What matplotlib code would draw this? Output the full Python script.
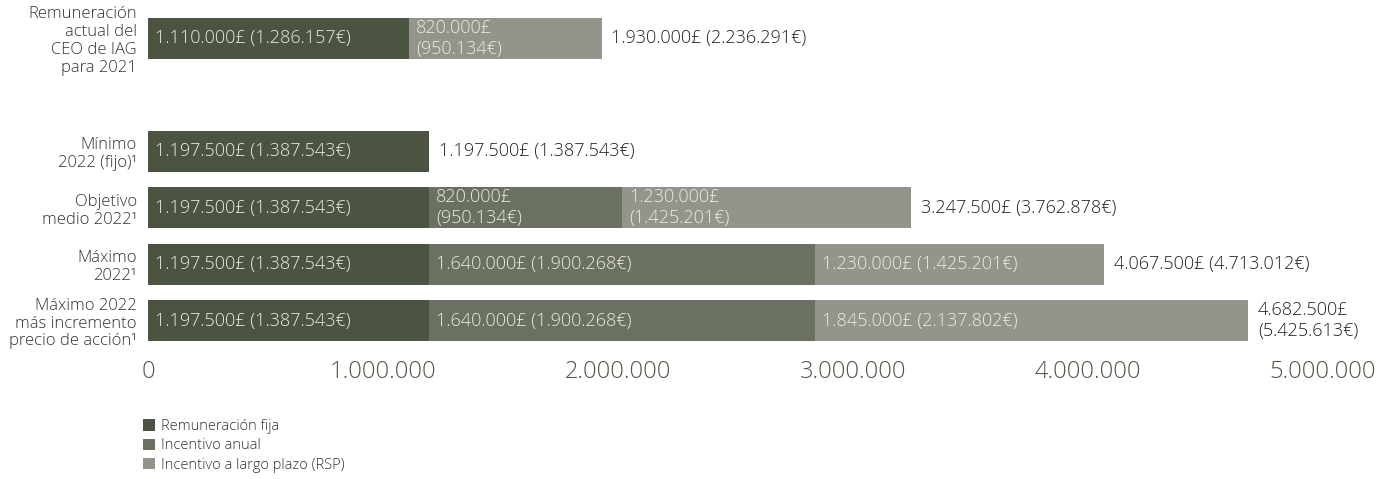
import matplotlib
matplotlib.use("Agg")
import matplotlib.pyplot as plt
from matplotlib.patches import Patch

plt.rcParams['font.family'] = ['Open Sans', 'DejaVu Sans']
plt.rcParams['font.weight'] = 'light'

categories = [
    "Remuneración\nactual del\nCEO de IAG\npara 2021",
    "Mínimo\n2022 (fijo)¹",
    "Objetivo\nmedio 2022¹",
    "Máximo\n2022¹",
    "Máximo 2022\nmás incremento\nprecio de acción¹",
]
positions = [0, 2, 3, 4, 5]

fixed_gbp = [1110000, 1197500, 1197500, 1197500, 1197500]
fixed_eur = [1286157, 1387543, 1387543, 1387543, 1387543]
annual_gbp = [0, 0, 820000, 1640000, 1640000]
annual_eur = [0, 0, 950134, 1900268, 1900268]
rsp_gbp = [820000, 0, 1230000, 1230000, 1845000]
rsp_eur = [950134, 0, 1425201, 1425201, 2137802]
total_gbp = [1930000, 1197500, 3247500, 4067500, 4682500]
total_eur = [2236291, 1387543, 3762878, 4713012, 5425613]

series_names = ["Remuneración fija", "Incentivo anual", "Incentivo a largo plazo (RSP)"]
colors = ["#4b5441", "#6b7160", "#93958a"]

xticks = [0, 1000000, 2000000, 3000000, 4000000, 5000000]

# label wrapping per row (style only)
annual_wrap = [False, False, True, False, False]
rsp_wrap = [True, False, True, False, False]
total_wrap = [False, False, False, False, True]


def fmt(v):
    return f"{v:,.0f}".replace(",", ".")


def lab(g, e, wrap):
    sep = "\n" if wrap else " "
    return f"{fmt(g)}£{sep}({fmt(e)}€)"


W, H = 1381, 479
fig = plt.figure(figsize=(W / 100, H / 100), dpi=100)
ax = fig.add_axes([148 / W, 1 - 349 / H, (1323 - 148) / W, (349 - 10) / H])

bh = 0.73
ax.barh(positions, fixed_gbp, height=bh, color=colors[0])
ax.barh(positions, annual_gbp, left=fixed_gbp, height=bh, color=colors[1])
left_rsp = [f + a for f, a in zip(fixed_gbp, annual_gbp)]
ax.barh(positions, rsp_gbp, left=left_rsp, height=bh, color=colors[2])

txt_col = "#ecebe4"
fs = 13
ls = 1.2
for i, p in enumerate(positions):
    ax.annotate(lab(fixed_gbp[i], fixed_eur[i], False), xy=(0, p), xytext=(5, 0),
                textcoords="offset points", va="center", ha="left",
                color=txt_col, fontsize=fs)
    if annual_gbp[i] > 0:
        ax.annotate(lab(annual_gbp[i], annual_eur[i], annual_wrap[i]),
                    xy=(fixed_gbp[i], p), xytext=(5, 0),
                    textcoords="offset points", va="center", ha="left",
                    color=txt_col, fontsize=fs, linespacing=ls)
    if rsp_gbp[i] > 0:
        ax.annotate(lab(rsp_gbp[i], rsp_eur[i], rsp_wrap[i]),
                    xy=(left_rsp[i], p), xytext=(5, 0),
                    textcoords="offset points", va="center", ha="left",
                    color=txt_col, fontsize=fs, linespacing=ls)
    ax.annotate(lab(total_gbp[i], total_eur[i], total_wrap[i]),
                xy=(total_gbp[i], p), xytext=(7, 0),
                textcoords="offset points", va="center", ha="left",
                color="#222222", fontsize=fs, linespacing=ls,
                annotation_clip=False)

ax.set_xlim(0, 5000000)
ax.set_ylim(5.5, -0.5)
ax.set_xticks(xticks)
ax.set_xticklabels([fmt(v) for v in xticks])
ax.set_yticks(positions)
ax.set_yticklabels(categories, fontsize=12, color="#333333", ha="right",
                   linespacing=1.15)
ax.tick_params(axis="x", length=0, pad=8, labelsize=17, labelcolor="#4f5745")
ax.tick_params(axis="y", length=0, pad=8)
for s in ax.spines.values():
    s.set_visible(False)

handles = [Patch(facecolor=c, edgecolor="none") for c in colors]
fig.legend(handles, series_names, loc="upper left",
           bbox_to_anchor=(143 / W, 1 - 419 / H), frameon=False,
           handlelength=0.8, handleheight=0.8, handletextpad=0.45,
           labelspacing=0.3, fontsize=10.5, labelcolor="#333333",
           borderaxespad=0, borderpad=0)

fig.savefig("out.png", dpi=100)
